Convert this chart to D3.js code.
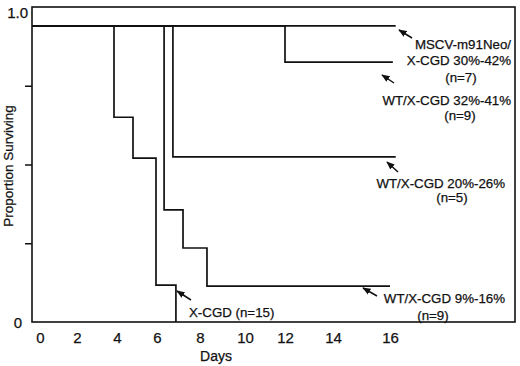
<!DOCTYPE html>
<html><head><meta charset="utf-8">
<script src="https://cdn.jsdelivr.net/npm/d3@7"></script>
<style>
html,body{margin:0;padding:0;background:#fff;}
svg{display:block;}
text{font-family:"Liberation Sans",Arial,sans-serif;fill:#111;stroke:#111;stroke-width:0.25px;}
</style></head>
<body>
<svg id="chart" width="520" height="366"></svg>
<script>
// ---- data ----
const xTicks = [0, 2, 4, 6, 8, 10, 12, 14, 16];
const yTicks = [0, 0.25, 0.5, 0.75, 1.0];
const startDay = -0.4;
const startSurv = 0.94;

const seriesNames = ["MSCV-m91Neo/X-CGD 30%-42% (n=7)", "WT/X-CGD 32%-41% (n=9)", "WT/X-CGD 20%-26% (n=5)", "WT/X-CGD 9%-16% (n=9)", "X-CGD (n=15)"];
const mscvEventDays = [];
const mscvSurv = [];
const mscvEndDay = 16.2;
const wt32EventDays = [12.0];
const wt32Surv = [0.825];
const wt32EndDay = 16.1;
const wt20EventDays = [6.74];
const wt20Surv = [0.524];
const wt20EndDay = 16.2;
const wt9EventDays = [6.33, 7.21, 8.31];
const wt9Surv = [0.356, 0.235, 0.114];
const wt9EndDay = 16.0;
const xcgdEventDays = [3.85, 4.8, 5.95, 6.88];
const xcgdSurv = [0.65, 0.52, 0.117, 0];
const xcgdEndDay = 6.88;

// ---- layout ----
const svg = d3.select("#chart");
const box = {left: 32, top: 7, right: 515, bottom: 322};
// the scanned axis is slightly non-uniform: piecewise-linear scale through the tick labels
const xKnotPx = [40, 77, 117, 157, 200, 245, 285, 333, 390];
const x = d3.scaleLinear()
  .domain([startDay].concat(xTicks))
  .range([box.left].concat(xKnotPx));
const y = d3.scaleLinear().domain([0, 1]).range([box.bottom, box.top]);

function buildSteps(days, surv, endDay) {
  const pts = [[startDay, startSurv]];
  days.forEach((d, i) => pts.push([d, surv[i]]));
  pts.push([endDay, surv.length ? surv[surv.length - 1] : startSurv]);
  return pts;
}
const series = [
  buildSteps(mscvEventDays, mscvSurv, mscvEndDay),
  buildSteps(wt32EventDays, wt32Surv, wt32EndDay),
  buildSteps(wt20EventDays, wt20Surv, wt20EndDay),
  buildSteps(wt9EventDays, wt9Surv, wt9EndDay),
  buildSteps(xcgdEventDays, xcgdSurv, xcgdEndDay)
];

const line = d3.line().x(d => x(d[0])).y(d => y(d[1])).curve(d3.curveStepAfter);

// frame
svg.append("rect")
  .attr("x", box.left).attr("y", box.top)
  .attr("width", box.right - box.left).attr("height", box.bottom - box.top)
  .attr("fill", "none").attr("stroke", "#111").attr("stroke-width", 1.6);

// y axis
const yAxis = svg.append("g").attr("transform", `translate(${box.left},0)`)
  .call(d3.axisLeft(y).tickValues(yTicks).tickSize(7)
    .tickFormat(d => d === 1 ? "1.0" : d === 0 ? "0" : ""));
yAxis.select(".domain").remove();
yAxis.selectAll(".tick line").attr("stroke", "#111").attr("stroke-width", 1.5)
  .attr("display", d => (d === 0 || d === 1) ? "none" : null);
yAxis.selectAll(".tick text")
  .style("font-family", '"Liberation Sans",Arial,sans-serif')
  .style("font-size", "15px").attr("fill", "#111")
  .attr("x", d => d === 1 ? -4 : -10)
  .attr("dy", d => d === 1 ? "0.68em" : "0.35em");

// x axis
const xAxis = svg.append("g").attr("transform", `translate(0,${box.bottom})`)
  .call(d3.axisBottom(x).tickValues(xTicks).tickSize(0).tickPadding(10));
xAxis.select(".domain").remove();
xAxis.selectAll(".tick text")
  .style("font-family", '"Liberation Sans",Arial,sans-serif')
  .style("font-size", "15px").attr("fill", "#111");

// axis titles
svg.append("text").attr("x", 216).attr("y", 361).attr("text-anchor", "middle")
  .style("font-size", "14px").text("Days");
svg.append("text").attr("transform", "translate(13,166) rotate(-90)")
  .attr("text-anchor", "middle").style("font-size", "13.5px").text("Proportion Surviving");

// survival curves
svg.append("g").selectAll("path").data(series).join("path")
  .attr("d", line).attr("fill", "none").attr("stroke", "#111").attr("stroke-width", 1.7);

// arrows
const defs = svg.append("defs");
defs.append("marker").attr("id", "ah").attr("viewBox", "0 0 10 10")
  .attr("refX", 9).attr("refY", 5).attr("markerWidth", 5.5).attr("markerHeight", 5.5)
  .attr("orient", "auto")
  .append("path").attr("d", "M0,1L10,5L0,9Z").attr("fill", "#111");
const arrows = [
  [412, 38, 399, 30],
  [394, 83, 382, 75],
  [398, 172, 387, 162],
  [377, 296, 363, 288],
  [191, 300, 177, 291]
];
svg.append("g").selectAll("line").data(arrows).join("line")
  .attr("x1", d => d[0]).attr("y1", d => d[1]).attr("x2", d => d[2]).attr("y2", d => d[3])
  .attr("stroke", "#111").attr("stroke-width", 1.5).attr("marker-end", "url(#ah)");

// annotations
const notes = [
  ["MSCV-m91Neo/", 511, 49, "end"],
  ["X-CGD 30%-42%", 511, 65, "end"],
  ["(n=7)", 461, 81.5, "middle"],
  ["WT/X-CGD 32%-41%", 511, 104.5, "end"],
  ["(n=9)", 460, 120, "middle"],
  ["WT/X-CGD 20%-26%", 505, 187.5, "end"],
  ["(n=5)", 452, 202, "middle"],
  ["WT/X-CGD 9%-16%", 505, 302.5, "end"],
  ["(n=9)", 433, 319.5, "middle"],
  ["X-CGD (n=15)", 189, 316.5, "start"]
];
svg.append("g").selectAll("text").data(notes).join("text")
  .attr("x", d => d[1]).attr("y", d => d[2]).attr("text-anchor", d => d[3])
  .style("font-size", "13.3px").text(d => d[0]);
</script>
</body></html>
